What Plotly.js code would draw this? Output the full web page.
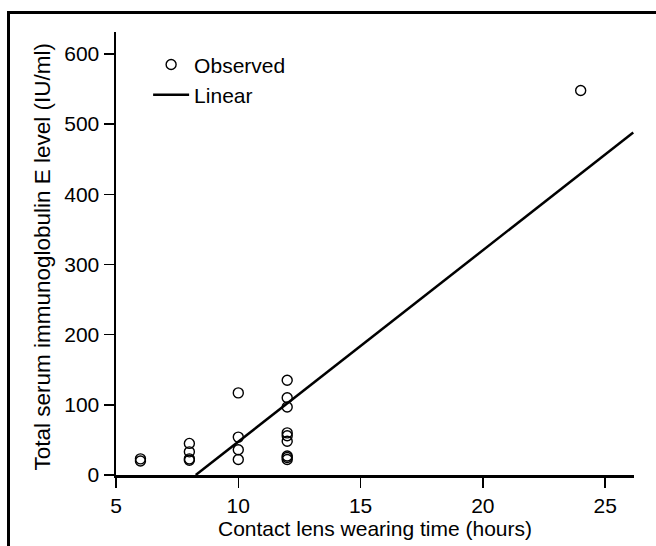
<!DOCTYPE html>
<html>
<head>
<meta charset="utf-8">
<script src="https://cdn.plot.ly/plotly-3.0.1.min.js"></script>
<style>
  html, body { margin: 0; padding: 0; background: #fff; }
  #wrap { position: relative; width: 656px; height: 546px; overflow: hidden; }
  #frame { position: absolute; left: 7px; top: 11px; width: 700px; height: 600px;
           border-left: 3px solid #000; border-top: 3px solid #000; pointer-events: none; z-index: 5; }
  #chart { position: absolute; left: 0; top: 0; width: 656px; height: 546px; }
</style>
</head>
<body>
<div id="wrap">
  <div id="chart"></div>
  <div id="frame"></div>
</div>
<script>
// Observed data: contact lens wearing time (hours) vs total serum IgE (IU/ml)
const obsHours = [6, 6, 8, 8, 8, 8, 10, 10, 10, 10, 12, 12, 12, 12, 12, 12, 12, 12, 12, 24];
const obsIgE   = [23, 20, 45, 33, 23, 21, 117, 54, 36, 22, 135, 110, 97, 60, 56, 48, 27, 25, 22, 548];

// Linear fit line endpoints
const fitHours = [8.26, 26.15];
const fitIgE   = [0, 488];

const xTicks = [5, 10, 15, 20, 25];
const yTicks = [0, 100, 200, 300, 400, 500, 600];

const xTitle = 'Contact lens wearing time (hours)';
const yTitle = 'Total serum immunoglobulin E level (IU/ml)';

const FONT = "'Liberation Sans', Arial, Helvetica, sans-serif";
const FS = 21;

const traces = [
  {
    x: obsHours, y: obsIgE, type: 'scatter', mode: 'markers', name: 'Observed',
    marker: { symbol: 'circle-open', size: 10, color: '#000', line: { width: 1.4, color: '#000' } },
    cliponaxis: false
  },
  {
    x: fitHours, y: fitIgE, type: 'scatter', mode: 'lines', name: 'Linear',
    line: { color: '#000', width: 2.5 }
  }
];

const layout = {
  width: 656, height: 546,
  margin: { l: 116, r: 22, t: 32, b: 71 },
  paper_bgcolor: '#fff', plot_bgcolor: '#fff',
  font: { family: FONT, size: FS, color: '#000' },
  showlegend: true,
  legend: {
    x: 0.062, y: 0.972, xanchor: 'left', yanchor: 'top',
    itemwidth: 36,
    bgcolor: 'rgba(0,0,0,0)', borderwidth: 0,
    font: { family: FONT, size: FS, color: '#000' }
  },
  xaxis: {
    range: [5, 26.18], tickvals: xTicks, ticktext: xTicks.map(String),
    showline: true, linecolor: '#000', linewidth: 2.5,
    ticks: 'outside', ticklen: 10, tickwidth: 1.5, tickcolor: '#000',
    showgrid: false, zeroline: false,
    tickfont: { family: FONT, size: FS, color: '#000' },
    title: { text: xTitle, font: { family: FONT, size: FS, color: '#000' }, standoff: 3 }
  },
  yaxis: {
    range: [0, 631.3], tickvals: yTicks, ticktext: yTicks.map(String),
    showline: true, linecolor: '#000', linewidth: 2.5,
    ticks: 'outside', ticklen: 10, tickwidth: 1.5, tickcolor: '#000',
    showgrid: false, zeroline: false,
    tickfont: { family: FONT, size: FS, color: '#000' }
  },
  annotations: [
    {
      text: yTitle, textangle: -90, showarrow: false,
      xref: 'paper', yref: 'paper', x: -0.142, y: 0.494,
      xanchor: 'center', yanchor: 'middle',
      font: { family: FONT, size: 22.5, color: '#000' }
    }
  ]
};

Plotly.newPlot('chart', traces, layout, { displayModeBar: false, staticPlot: true });
</script>
</body>
</html>
